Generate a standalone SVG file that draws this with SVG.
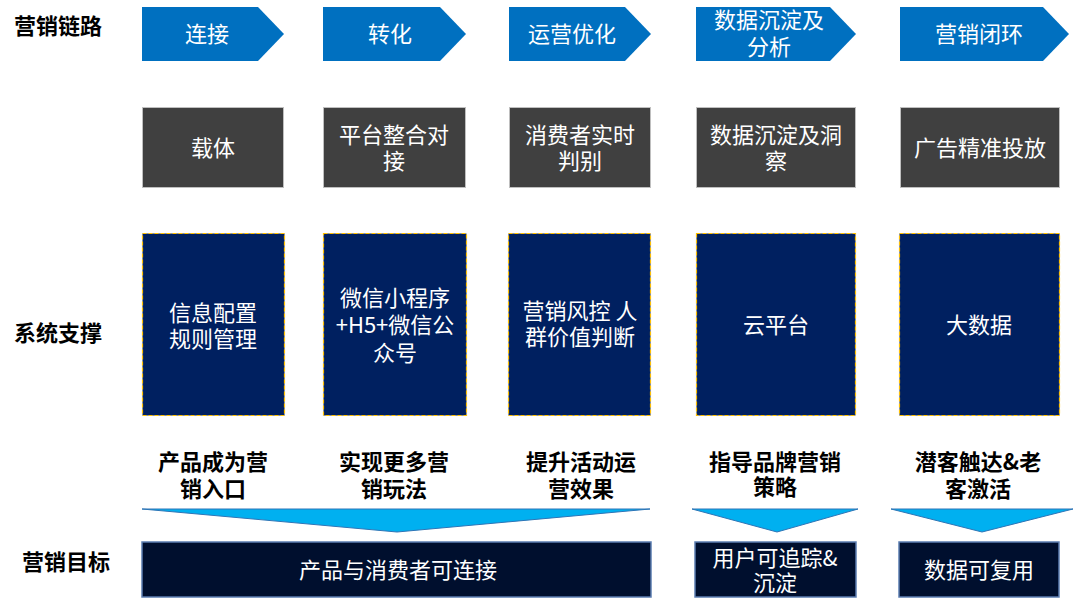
<svg xmlns="http://www.w3.org/2000/svg" width="1080" height="611" viewBox="0 0 1080 611">
<defs>
<style>
text{font-family:"Noto Sans CJK SC","Microsoft YaHei",sans-serif;text-anchor:middle;}
.lbl{font-size:22px;font-weight:bold;fill:#000;text-anchor:start;}
.w{font-size:22px;fill:#fff;}
.g{font-size:22px;font-weight:bold;fill:#000;}
.arrow{fill:#0070C0;}
.gray{fill:#404040;stroke:#BFBFBF;stroke-width:1;}
.navy{fill:#002060;stroke:#FFC000;stroke-width:1.2;stroke-dasharray:4 2;}
.goal{fill:#000F2E;stroke:#5B7DB1;stroke-width:1.5;}
.tri{fill:#00B0F0;stroke:#2E75B6;stroke-width:1;}
</style>
</defs>
<rect width="1080" height="611" fill="#fff"/>
<g id="labels">
<text class="lbl" x="14" y="34">营销链路</text>
<text class="lbl" x="14" y="341">系统支撑</text>
<text class="lbl" x="22" y="570">营销目标</text>
</g>
<g id="step1"><polygon class="arrow" points="142,7 258,7 284,34 258,61 142,61"/><text class="w" x="207" y="42">连接</text></g>
<g id="step2"><polygon class="arrow" points="323,7 440,7 466,34 440,61 323,61"/><text class="w" x="390" y="42">转化</text></g>
<g id="step3"><polygon class="arrow" points="509,7 625,7 651,34 625,61 509,61"/><text class="w" x="572" y="42">运营优化</text></g>
<g id="step4"><polygon class="arrow" points="696,7 830,7 856,34 830,61 696,61"/><text class="w" x="769" y="28">数据沉淀及</text><text class="w" x="769" y="55">分析</text></g>
<g id="step5"><polygon class="arrow" points="900,7 1043,7 1069,34 1043,61 900,61"/><text class="w" x="979" y="42">营销闭环</text></g>

<g id="carrier1"><rect class="gray" x="142.5" y="107.5" width="141" height="80"/><text class="w" x="213" y="156">载体</text></g>
<g id="carrier2"><rect class="gray" x="323.5" y="107.5" width="142" height="80"/><text class="w" x="394" y="143">平台整合对</text><text class="w" x="394" y="169">接</text></g>
<g id="carrier3"><rect class="gray" x="509.5" y="107.5" width="141" height="80"/><text class="w" x="580" y="143">消费者实时</text><text class="w" x="580" y="169">判别</text></g>
<g id="carrier4"><rect class="gray" x="696.5" y="107.5" width="159" height="80"/><text class="w" x="776" y="143">数据沉淀及洞</text><text class="w" x="776" y="169">察</text></g>
<g id="carrier5"><rect class="gray" x="900.5" y="107.5" width="159" height="80"/><text class="w" x="980" y="156">广告精准投放</text></g>

<g id="sys1"><rect class="navy" x="142.5" y="233.5" width="142" height="182"/><text class="w" x="213" y="321">信息配置</text><text class="w" x="213" y="347">规则管理</text></g>
<g id="sys2"><rect class="navy" x="323.5" y="233.5" width="143" height="182"/><text class="w" x="395" y="306">微信小程序</text><text class="w" x="395" y="333">+H5+微信公</text><text class="w" x="395" y="361">众号</text></g>
<g id="sys3"><rect class="navy" x="508.5" y="233.5" width="142" height="182"/><text class="w" x="580" y="319">营销风控 人</text><text class="w" x="580" y="345">群价值判断</text></g>
<g id="sys4"><rect class="navy" x="696.5" y="233.5" width="159" height="182"/><text class="w" x="776" y="333">云平台</text></g>
<g id="sys5"><rect class="navy" x="899.5" y="233.5" width="160" height="182"/><text class="w" x="979" y="333">大数据</text></g>

<g id="effect1"><text class="g" x="213" y="470">产品成为营</text><text class="g" x="213" y="497">销入口</text></g>
<g id="effect2"><text class="g" x="394" y="470">实现更多营</text><text class="g" x="394" y="497">销玩法</text></g>
<g id="effect3"><text class="g" x="581" y="470">提升活动运</text><text class="g" x="581" y="497">营效果</text></g>
<g id="effect4"><text class="g" x="775" y="470">指导品牌营销</text><text class="g" x="775" y="495">策略</text></g>
<g id="effect5"><text class="g" x="978" y="470">潜客触达&amp;老</text><text class="g" x="978" y="497">客激活</text></g>

<g id="connectors">
<polygon class="tri" points="142,509 650,509 397,532"/>
<polygon class="tri" points="692,509 858,509 777,532"/>
<polygon class="tri" points="891,509 1073,509 982,532"/>
</g>

<g id="goal1"><rect class="goal" x="142" y="542" width="509" height="55"/><text class="w" x="398" y="578">产品与消费者可连接</text></g>
<g id="goal2"><rect class="goal" x="695" y="542" width="161" height="55"/><text class="w" x="775" y="566">用户可追踪&amp;</text><text class="w" x="775" y="591">沉淀</text></g>
<g id="goal3"><rect class="goal" x="899" y="542" width="160" height="55"/><text class="w" x="979" y="578">数据可复用</text></g>
</svg>
